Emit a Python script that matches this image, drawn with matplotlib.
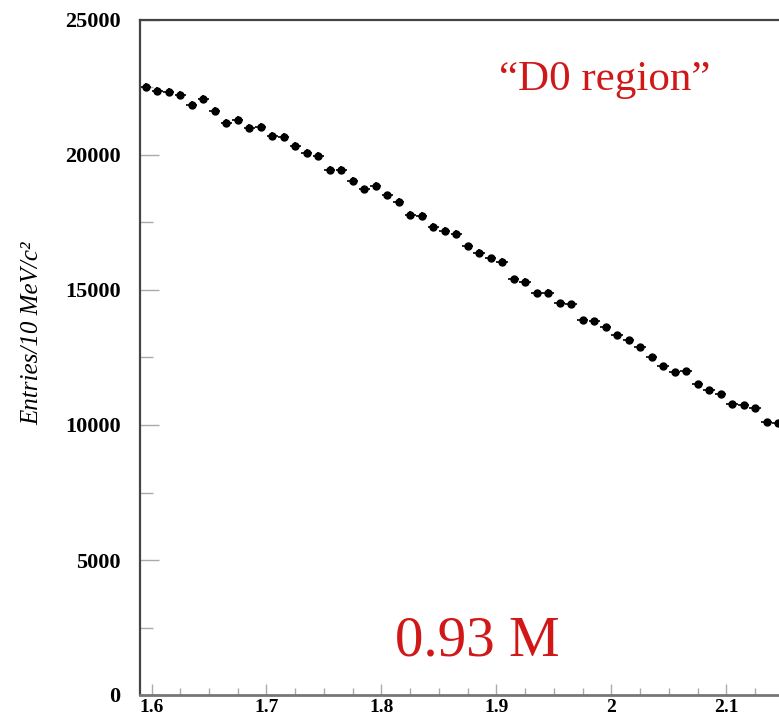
import numpy as np
import matplotlib
matplotlib.use("Agg")
import matplotlib.pyplot as plt
from matplotlib.ticker import MultipleLocator

# entries per 10 MeV bin, starting at 1.59 GeV
bin_start = 1.59
bin_width = 0.01
counts = [22530, 22380, 22350, 22220, 21850, 22060, 21630, 21200, 21300, 20990,
          21030, 20700, 20660, 20330, 20090, 19960, 19440, 19440, 19040, 18730,
          18850, 18500, 18270, 17780, 17740, 17350, 17200, 17080, 16630, 16380,
          16180, 16050, 15400, 15310, 14880, 14900, 14510, 14480, 13890, 13860,
          13640, 13330, 13150, 12900, 12530, 12190, 11980, 12010, 11520, 11300,
          11150, 10780, 10740, 10620, 10120, 10060]
x_ticks = [1.6, 1.7, 1.8, 1.9, 2.0, 2.1]
x_ticklabels = ["1.6", "1.7", "1.8", "1.9", "2", "2.1"]
y_ticks = [0, 5000, 10000, 15000, 20000, 25000]

counts = np.array(counts, dtype=float)
centers = bin_start + bin_width * (np.arange(len(counts)) + 0.5)

W, H = 779, 725
fig = plt.figure(figsize=(W / 100, H / 100), dpi=100)

# axes run a bit past the right edge of the picture, so no right frame shows
xmin, xmax = 1.59, 2.15
px_per_unit = 1150.0
left, top, bottom = 140, 20, 695
ax = fig.add_axes([left / W, (H - bottom) / H,
                   (xmax - xmin) * px_per_unit / W, (bottom - top) / H])

ax.errorbar(centers, counts, xerr=bin_width / 2, yerr=np.sqrt(counts),
            fmt="o", color="black", ms=5, elinewidth=1.2, capsize=0)

ax.set_xlim(xmin, xmax)
ax.set_ylim(0, 25000)
ax.set_xticks(x_ticks)
ax.set_xticklabels(x_ticklabels)
ax.set_yticks(y_ticks)
ax.xaxis.set_minor_locator(MultipleLocator(0.025))
ax.yaxis.set_minor_locator(MultipleLocator(2500))

for s in ax.spines.values():
    s.set_color("#444444")
    s.set_linewidth(1.6)
ax.spines["bottom"].set_color("#777777")
ax.spines["bottom"].set_linewidth(2)

ax.tick_params(which="both", direction="in", color="#aaaaaa", width=1)
ax.tick_params(axis="y", which="major", length=14)
ax.tick_params(axis="y", which="minor", length=9)
ax.tick_params(axis="x", which="major", length=8)
ax.tick_params(axis="x", which="minor", length=5)
ax.tick_params(axis="y", pad=14)
ax.tick_params(axis="x", pad=3)
for lab in ax.get_yticklabels():
    lab.set_fontfamily("Liberation Serif")
    lab.set_fontweight("bold")
    lab.set_fontsize(16)
for lab in ax.get_xticklabels():
    lab.set_fontfamily("Liberation Serif")
    lab.set_fontweight("bold")
    lab.set_fontsize(14)

fig.text(32 / W, 1 - 333 / H, "Entries/10 MeV/c²", rotation=90,
         ha="center", va="center", family="Liberation Serif",
         style="italic", fontsize=18)

red = "#d01818"
fig.text(605 / W, 1 - 90 / H, "\u201cD0 region\u201d", ha="center",
         va="baseline", family="Liberation Serif", fontsize=31, color=red)
fig.text(477 / W, 1 - 655 / H, "0.93 M", ha="center", va="baseline",
         family="Liberation Serif", fontsize=41, color=red)

fig.savefig("out.png", dpi=100)
